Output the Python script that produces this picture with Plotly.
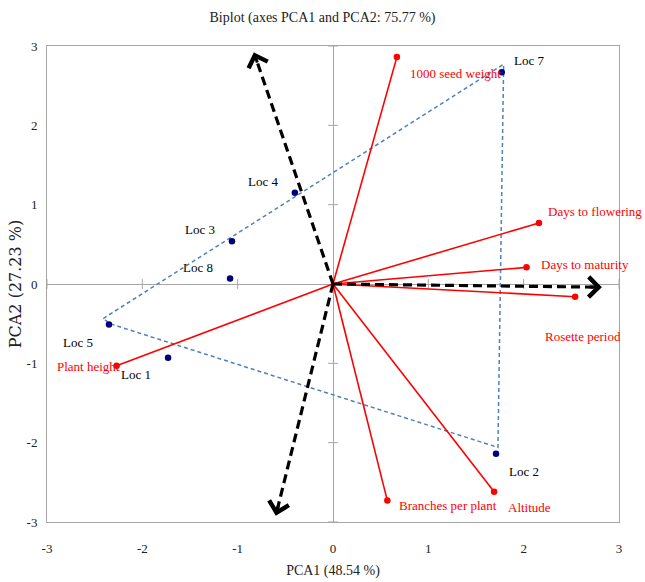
import plotly.graph_objects as go

# ---- data ----
loc_names = ["Loc 1", "Loc 2", "Loc 3", "Loc 4", "Loc 5", "Loc 7", "Loc 8"]
loc_x = [-1.73, 1.71, -1.06, -0.40, -2.35, 1.77, -1.08]
loc_y = [-0.93, -2.14, 0.54, 1.15, -0.51, 2.67, 0.07]

var_names = ["1000 seed weight", "Days to flowering", "Days to maturity",
             "Rosette period", "Altitude", "Branches per plant", "Plant height"]
var_x = [0.67, 2.16, 2.03, 2.54, 1.69, 0.57, -2.27]
var_y = [2.86, 0.77, 0.21, -0.16, -2.62, -2.73, -1.03]

hull_x = [-2.41, 1.79, 1.73, -2.34, -2.41]
hull_y = [-0.435, 2.77, -2.06, -0.50, -0.435]

arrow_x = [-0.83, -0.60, 2.82]
arrow_y = [2.92, -2.92, -0.04]

tick_vals = [-3, -2, -1, 0, 1, 2, 3]
tick_text = ["-3", "-2", "-1", "0", "1", "2", "3"]

title_text = "Biplot (axes PCA1 and PCA2: 75.77 %)"
x_title = "PCA1 (48.54 %)"
y_title = "PCA2 (27.23 %)"

# label placement (anchor, xshift, yshift) in pixels
loc_label_pos = {
    "Loc 1": ("right", -15, -17),
    "Loc 2": ("left", 11, -18),
    "Loc 3": ("right", -15, 12),
    "Loc 4": ("right", -15, 11),
    "Loc 5": ("right", -14, -18),
    "Loc 7": ("left", 10, 12),
    "Loc 8": ("right", -15, 11),
}
var_label_pos = {
    "1000 seed weight": ("left", 11, -16),
    "Days to flowering": ("left", 7, 11),
    "Days to maturity": ("left", 12, 3),
    "Rosette period": ("left", -32, -40),
    "Altitude": ("left", 12, -16),
    "Branches per plant": ("left", 10, -5),
    "Plant height": ("right", 5, -1),
}

FONT = "Liberation Serif, Times New Roman, serif"
RED = "#FF0000"
NAVY = "#00007A"
GRAY = "#A6A6A6"

fig = go.Figure()

# small tick marks on the zero axes
nz = [v for v in tick_vals if v != 0]
fig.add_trace(go.Scatter(
    x=nz, y=[0] * len(nz), mode="markers",
    marker=dict(symbol="line-ns", size=7, line=dict(color=GRAY, width=1)),
    hoverinfo="skip", showlegend=False))
fig.add_trace(go.Scatter(
    x=[0] * len(nz), y=nz, mode="markers",
    marker=dict(symbol="line-ew", size=7, line=dict(color=GRAY, width=1)),
    hoverinfo="skip", showlegend=False))

# hull
fig.add_trace(go.Scatter(
    x=hull_x, y=hull_y, mode="lines",
    line=dict(color="#4F81BD", width=1.5, dash="4px,3px"),
    hoverinfo="skip", showlegend=False))

# variable vectors
vx, vy = [], []
for x, y in zip(var_x, var_y):
    vx += [0, x, None]
    vy += [0, y, None]
fig.add_trace(go.Scatter(x=vx, y=vy, mode="lines",
                         line=dict(color=RED, width=1.6),
                         hoverinfo="skip", showlegend=False))
fig.add_trace(go.Scatter(x=var_x, y=var_y, mode="markers",
                         marker=dict(color=RED, size=6.5),
                         showlegend=False))

# black dashed arrows (shafts)
for ax_, ay_ in zip(arrow_x, arrow_y):
    fig.add_trace(go.Scatter(
        x=[0, ax_ * 0.97], y=[0, ay_ * 0.97], mode="lines",
        line=dict(color="black", width=3.2, dash="9px,5px"),
        hoverinfo="skip", showlegend=False))

# observations
fig.add_trace(go.Scatter(x=loc_x, y=loc_y, mode="markers",
                         marker=dict(color=NAVY, size=6.5),
                         showlegend=False))

annotations = []
# arrow heads
for ax_, ay_ in zip(arrow_x, arrow_y):
    annotations.append(dict(
        x=ax_, y=ay_, ax=ax_ * 0.95, ay=ay_ * 0.95, xref="x", yref="y",
        axref="x", ayref="y", text="", showarrow=True, arrowhead=4,
        arrowsize=1.3, arrowwidth=3, arrowcolor="black"))

for n, x, y in zip(loc_names, loc_x, loc_y):
    a, dx, dy = loc_label_pos[n]
    annotations.append(dict(x=x, y=y, text=n, showarrow=False, xanchor=a,
                            yanchor="middle", xshift=dx, yshift=dy,
                            font=dict(family=FONT, size=13, color="black")))
for n, x, y in zip(var_names, var_x, var_y):
    a, dx, dy = var_label_pos[n]
    annotations.append(dict(x=x, y=y, text=n, showarrow=False, xanchor=a,
                            yanchor="middle", xshift=dx, yshift=dy,
                            font=dict(family=FONT, size=13, color=RED)))

fig.update_layout(
    width=645, height=582,
    margin=dict(l=47, r=26, t=46, b=60),
    paper_bgcolor="white", plot_bgcolor="white",
    title=dict(text=title_text, x=0.5, xanchor="center", y=0.97, yanchor="middle",
               font=dict(family=FONT, size=14, color="#222")),
    annotations=annotations,
    xaxis=dict(range=[-3, 3], tickvals=tick_vals, ticktext=tick_text,
               showgrid=False, automargin=False,
               zeroline=True, zerolinecolor=GRAY, zerolinewidth=1,
               showline=True, mirror=True, linecolor=GRAY, linewidth=1,
               ticks="", ticklabelstandoff=14,
               tickfont=dict(family=FONT, size=13, color="#222"),
               title=dict(text=x_title, standoff=10,
                          font=dict(family=FONT, size=14, color="#222"))),
    yaxis=dict(range=[-3, 3], tickvals=tick_vals, ticktext=tick_text,
               showgrid=False, automargin=False,
               zeroline=True, zerolinecolor=GRAY, zerolinewidth=1,
               showline=True, mirror=True, linecolor=GRAY, linewidth=1,
               ticks="", ticklabelstandoff=6,
               tickfont=dict(family=FONT, size=13, color="#222"),
               title=dict(text=y_title, standoff=0,
                          font=dict(family="DejaVu Serif, serif", size=16, color="#222"))),
)

fig.write_html("out.html", config={"displayModeBar": False},
               post_script="document.body.style.margin='0';document.body.style.overflow='hidden';")
